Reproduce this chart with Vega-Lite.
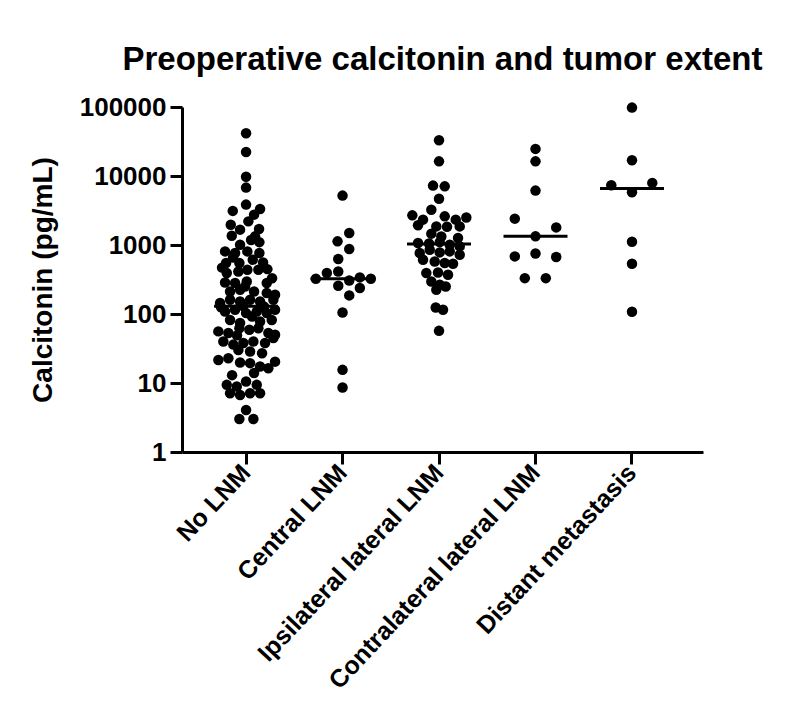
{
  "$schema": "https://vega.github.io/schema/vega-lite/v6.json",
  "width": 521,
  "height": 345,
  "autosize": {"type": "none"},
  "padding": {"left": 182, "top": 107, "right": 94, "bottom": 272},
  "background": "white",
  "title": {
    "text": "Preoperative calcitonin and tumor extent",
    "font": "Liberation Sans",
    "fontSize": 33,
    "fontWeight": "bold",
    "color": "black",
    "anchor": "middle",
    "offset": 17
  },
  "config": {
    "view": {"stroke": null},
    "axis": {
      "domainColor": "black",
      "domainWidth": 3,
      "tickColor": "black",
      "tickWidth": 3,
      "tickSize": 12,
      "grid": false,
      "labelFont": "Liberation Sans",
      "labelFontWeight": "bold",
      "labelColor": "black",
      "labelLimit": 0,
      "titleFont": "Liberation Sans",
      "titleFontWeight": "bold",
      "titleColor": "black"
    }
  },
  "data": {
    "values": [
      {"group": "No LNM", "value": 41700, "jitter": 0},
      {"group": "No LNM", "value": 22300, "jitter": 0},
      {"group": "No LNM", "value": 9770, "jitter": 0},
      {"group": "No LNM", "value": 6790, "jitter": 0},
      {"group": "No LNM", "value": 3850, "jitter": 0},
      {"group": "No LNM", "value": 3120, "jitter": -13.3},
      {"group": "No LNM", "value": 3330, "jitter": 14},
      {"group": "No LNM", "value": 2755, "jitter": 8},
      {"group": "No LNM", "value": 1970, "jitter": -15.3},
      {"group": "No LNM", "value": 2200, "jitter": 2.3},
      {"group": "No LNM", "value": 1710, "jitter": 13},
      {"group": "No LNM", "value": 1365, "jitter": -14.3},
      {"group": "No LNM", "value": 1334, "jitter": 9},
      {"group": "No LNM", "value": 1010, "jitter": -6},
      {"group": "No LNM", "value": 1100, "jitter": 13.3},
      {"group": "No LNM", "value": 808, "jitter": -21},
      {"group": "No LNM", "value": 765, "jitter": -11},
      {"group": "No LNM", "value": 808, "jitter": 1.3},
      {"group": "No LNM", "value": 765, "jitter": 13.3},
      {"group": "No LNM", "value": 548, "jitter": -20},
      {"group": "No LNM", "value": 548, "jitter": -6.7},
      {"group": "No LNM", "value": 612, "jitter": 6.7},
      {"group": "No LNM", "value": 393, "jitter": -19.3},
      {"group": "No LNM", "value": 414, "jitter": -7.7},
      {"group": "No LNM", "value": 437, "jitter": 1.3},
      {"group": "No LNM", "value": 437, "jitter": 12.3},
      {"group": "No LNM", "value": 447, "jitter": 21.3},
      {"group": "No LNM", "value": 286, "jitter": -21},
      {"group": "No LNM", "value": 281, "jitter": -11},
      {"group": "No LNM", "value": 296, "jitter": 0.7},
      {"group": "No LNM", "value": 281, "jitter": 20.7},
      {"group": "No LNM", "value": 212, "jitter": -16},
      {"group": "No LNM", "value": 224, "jitter": -6},
      {"group": "No LNM", "value": 212, "jitter": 8},
      {"group": "No LNM", "value": 201, "jitter": 20.7},
      {"group": "No LNM", "value": 190, "jitter": 29},
      {"group": "No LNM", "value": 144, "jitter": -26},
      {"group": "No LNM", "value": 161, "jitter": -16},
      {"group": "No LNM", "value": 152, "jitter": -6},
      {"group": "No LNM", "value": 161, "jitter": 4},
      {"group": "No LNM", "value": 152, "jitter": 14},
      {"group": "No LNM", "value": 161, "jitter": 27.3},
      {"group": "No LNM", "value": 109, "jitter": -21},
      {"group": "No LNM", "value": 115, "jitter": -11},
      {"group": "No LNM", "value": 103, "jitter": 0},
      {"group": "No LNM", "value": 109, "jitter": 10.7},
      {"group": "No LNM", "value": 103, "jitter": 20.7},
      {"group": "No LNM", "value": 115, "jitter": 29},
      {"group": "No LNM", "value": 82, "jitter": -16},
      {"group": "No LNM", "value": 74, "jitter": -6},
      {"group": "No LNM", "value": 78, "jitter": 14},
      {"group": "No LNM", "value": 82, "jitter": 25.7},
      {"group": "No LNM", "value": 56, "jitter": -27.7},
      {"group": "No LNM", "value": 53, "jitter": -17.7},
      {"group": "No LNM", "value": 62, "jitter": -6.7},
      {"group": "No LNM", "value": 59, "jitter": 3.3},
      {"group": "No LNM", "value": 62, "jitter": 12.3},
      {"group": "No LNM", "value": 53, "jitter": 22.3},
      {"group": "No LNM", "value": 50, "jitter": 29},
      {"group": "No LNM", "value": 40, "jitter": -22.7},
      {"group": "No LNM", "value": 36, "jitter": -12.7},
      {"group": "No LNM", "value": 38, "jitter": -2.7},
      {"group": "No LNM", "value": 40, "jitter": 7.3},
      {"group": "No LNM", "value": 38, "jitter": 19},
      {"group": "No LNM", "value": 45, "jitter": 27.3},
      {"group": "No LNM", "value": 30, "jitter": -7.7},
      {"group": "No LNM", "value": 28.6, "jitter": 4},
      {"group": "No LNM", "value": 21.6, "jitter": -27.7},
      {"group": "No LNM", "value": 22.9, "jitter": -17.7},
      {"group": "No LNM", "value": 19.8, "jitter": -6},
      {"group": "No LNM", "value": 19.4, "jitter": 4},
      {"group": "No LNM", "value": 17.3, "jitter": 14},
      {"group": "No LNM", "value": 16.4, "jitter": 22.3},
      {"group": "No LNM", "value": 20.4, "jitter": 29},
      {"group": "No LNM", "value": 9.4, "jitter": -19.3},
      {"group": "No LNM", "value": 8.9, "jitter": -9.3},
      {"group": "No LNM", "value": 10.5, "jitter": 0},
      {"group": "No LNM", "value": 9.4, "jitter": 10.7},
      {"group": "No LNM", "value": 7.1, "jitter": -16},
      {"group": "No LNM", "value": 6.7, "jitter": -6},
      {"group": "No LNM", "value": 7.1, "jitter": 4},
      {"group": "No LNM", "value": 7.1, "jitter": 14},
      {"group": "No LNM", "value": 4.07, "jitter": 0},
      {"group": "No LNM", "value": 3.0, "jitter": -6.7},
      {"group": "No LNM", "value": 3.0, "jitter": 7.3},
      {"group": "No LNM", "value": 1670, "jitter": -6},
      {"group": "No LNM", "value": 1180, "jitter": 5},
      {"group": "No LNM", "value": 470, "jitter": -24},
      {"group": "No LNM", "value": 330, "jitter": 26},
      {"group": "No LNM", "value": 130, "jitter": -3},
      {"group": "No LNM", "value": 125, "jitter": -25},
      {"group": "No LNM", "value": 128, "jitter": 18},
      {"group": "No LNM", "value": 92, "jitter": 6},
      {"group": "No LNM", "value": 49, "jitter": -9},
      {"group": "No LNM", "value": 27, "jitter": 16},
      {"group": "No LNM", "value": 13, "jitter": -14},
      {"group": "No LNM", "value": 14, "jitter": 8},
      {"group": "No LNM", "value": 250, "jitter": -1},
      {"group": "No LNM", "value": 560, "jitter": 17},
      {"group": "No LNM", "value": 660, "jitter": -13},
      {"group": "Central LNM", "value": 5200, "jitter": 0},
      {"group": "Central LNM", "value": 1494, "jitter": 6.7},
      {"group": "Central LNM", "value": 1130, "jitter": -5},
      {"group": "Central LNM", "value": 875, "jitter": 6.7},
      {"group": "Central LNM", "value": 627, "jitter": -4.3},
      {"group": "Central LNM", "value": 414, "jitter": -4.3},
      {"group": "Central LNM", "value": 393, "jitter": -15.7},
      {"group": "Central LNM", "value": 324, "jitter": -26.7},
      {"group": "Central LNM", "value": 306, "jitter": 6.7},
      {"group": "Central LNM", "value": 339, "jitter": 17.3},
      {"group": "Central LNM", "value": 324, "jitter": 28.3},
      {"group": "Central LNM", "value": 257, "jitter": -4.3},
      {"group": "Central LNM", "value": 238, "jitter": 17.3},
      {"group": "Central LNM", "value": 186, "jitter": 6.7},
      {"group": "Central LNM", "value": 105, "jitter": 0},
      {"group": "Central LNM", "value": 15.5, "jitter": 0},
      {"group": "Central LNM", "value": 8.6, "jitter": 0},
      {"group": "Ipsilateral lateral LNM", "value": 33000, "jitter": 0},
      {"group": "Ipsilateral lateral LNM", "value": 16300, "jitter": 0},
      {"group": "Ipsilateral lateral LNM", "value": 7260, "jitter": -6},
      {"group": "Ipsilateral lateral LNM", "value": 7080, "jitter": 5.7},
      {"group": "Ipsilateral lateral LNM", "value": 4680, "jitter": 0},
      {"group": "Ipsilateral lateral LNM", "value": 2690, "jitter": -26.7},
      {"group": "Ipsilateral lateral LNM", "value": 3240, "jitter": -7.7},
      {"group": "Ipsilateral lateral LNM", "value": 2330, "jitter": -16},
      {"group": "Ipsilateral lateral LNM", "value": 2600, "jitter": 5.7},
      {"group": "Ipsilateral lateral LNM", "value": 2330, "jitter": 16.7},
      {"group": "Ipsilateral lateral LNM", "value": 2510, "jitter": 27.3},
      {"group": "Ipsilateral lateral LNM", "value": 1930, "jitter": -21},
      {"group": "Ipsilateral lateral LNM", "value": 1860, "jitter": -2.7},
      {"group": "Ipsilateral lateral LNM", "value": 1840, "jitter": 8},
      {"group": "Ipsilateral lateral LNM", "value": 1860, "jitter": 20.7},
      {"group": "Ipsilateral lateral LNM", "value": 1460, "jitter": -7.7},
      {"group": "Ipsilateral lateral LNM", "value": 1330, "jitter": 2.3},
      {"group": "Ipsilateral lateral LNM", "value": 1260, "jitter": 19},
      {"group": "Ipsilateral lateral LNM", "value": 1070, "jitter": -21},
      {"group": "Ipsilateral lateral LNM", "value": 1050, "jitter": -10},
      {"group": "Ipsilateral lateral LNM", "value": 1100, "jitter": 0.7},
      {"group": "Ipsilateral lateral LNM", "value": 1010, "jitter": 10.7},
      {"group": "Ipsilateral lateral LNM", "value": 955, "jitter": 20.7},
      {"group": "Ipsilateral lateral LNM", "value": 765, "jitter": -19.3},
      {"group": "Ipsilateral lateral LNM", "value": 853, "jitter": -9.3},
      {"group": "Ipsilateral lateral LNM", "value": 781, "jitter": 0.7},
      {"group": "Ipsilateral lateral LNM", "value": 808, "jitter": 10.7},
      {"group": "Ipsilateral lateral LNM", "value": 724, "jitter": 20.7},
      {"group": "Ipsilateral lateral LNM", "value": 612, "jitter": -16},
      {"group": "Ipsilateral lateral LNM", "value": 578, "jitter": -4.3},
      {"group": "Ipsilateral lateral LNM", "value": 548, "jitter": 5.7},
      {"group": "Ipsilateral lateral LNM", "value": 535, "jitter": 14},
      {"group": "Ipsilateral lateral LNM", "value": 393, "jitter": -12.7},
      {"group": "Ipsilateral lateral LNM", "value": 400, "jitter": -1},
      {"group": "Ipsilateral lateral LNM", "value": 371, "jitter": 9},
      {"group": "Ipsilateral lateral LNM", "value": 296, "jitter": -7.7},
      {"group": "Ipsilateral lateral LNM", "value": 265, "jitter": 0.7},
      {"group": "Ipsilateral lateral LNM", "value": 251, "jitter": 6.7},
      {"group": "Ipsilateral lateral LNM", "value": 224, "jitter": -2.7},
      {"group": "Ipsilateral lateral LNM", "value": 124, "jitter": -3.3},
      {"group": "Ipsilateral lateral LNM", "value": 115, "jitter": 4},
      {"group": "Ipsilateral lateral LNM", "value": 57, "jitter": 0},
      {"group": "Contralateral lateral LNM", "value": 24700, "jitter": 0},
      {"group": "Contralateral lateral LNM", "value": 16300, "jitter": 0},
      {"group": "Contralateral lateral LNM", "value": 6140, "jitter": 0},
      {"group": "Contralateral lateral LNM", "value": 2410, "jitter": -20.7},
      {"group": "Contralateral lateral LNM", "value": 1800, "jitter": 20.7},
      {"group": "Contralateral lateral LNM", "value": 1334, "jitter": 0},
      {"group": "Contralateral lateral LNM", "value": 684, "jitter": -20.7},
      {"group": "Contralateral lateral LNM", "value": 755, "jitter": 0},
      {"group": "Contralateral lateral LNM", "value": 670, "jitter": 20.7},
      {"group": "Contralateral lateral LNM", "value": 331, "jitter": -10.7},
      {"group": "Contralateral lateral LNM", "value": 331, "jitter": 10.3},
      {"group": "Distant metastasis", "value": 98000, "jitter": 0},
      {"group": "Distant metastasis", "value": 16900, "jitter": 0},
      {"group": "Distant metastasis", "value": 7330, "jitter": -20.7},
      {"group": "Distant metastasis", "value": 7940, "jitter": 20.3},
      {"group": "Distant metastasis", "value": 5800, "jitter": 0},
      {"group": "Distant metastasis", "value": 1117, "jitter": 0},
      {"group": "Distant metastasis", "value": 536, "jitter": 0},
      {"group": "Distant metastasis", "value": 108, "jitter": 0}
    ]
  },
  "encoding": {
    "x": {
      "field": "group",
      "type": "nominal",
      "sort": ["No LNM", "Central LNM", "Ipsilateral lateral LNM", "Contralateral lateral LNM", "Distant metastasis"],
      "scale": {"type": "band", "paddingInner": 0, "paddingOuter": 0.2, "align": 0.41},
      "axis": {"title": null, "labelAngle": -47, "labelFontSize": 25, "labelPadding": 4, "labelAlign": "right", "labelBaseline": "middle"}
    }
  },
  "layer": [
    {
      "mark": {"type": "circle", "size": 110, "color": "black", "opacity": 1},
      "encoding": {
        "xOffset": {"field": "jitter", "type": "quantitative", "scale": {"domain": [-48.24, 48.24], "range": [0, 96.48]}},
        "y": {
          "field": "value",
          "type": "quantitative",
          "scale": {"type": "log", "domain": [1, 100000], "nice": false},
          "axis": {
            "title": "Calcitonin (pg/mL)",
            "titleFontSize": 28,
            "titlePadding": 22,
            "values": [1, 10, 100, 1000, 10000, 100000],
            "format": "d",
            "labelFontSize": 26,
            "labelPadding": 4
          }
        }
      }
    },
    {
      "mark": {"type": "tick", "size": 64, "thickness": 3, "color": "black", "opacity": 1},
      "encoding": {
        "y": {"aggregate": "median", "field": "value", "type": "quantitative"}
      }
    }
  ]
}
